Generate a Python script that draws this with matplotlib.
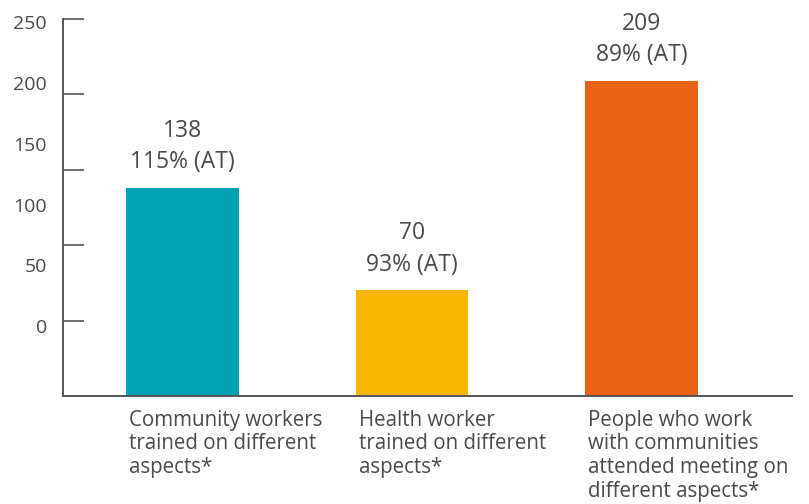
import matplotlib
matplotlib.use("Agg")
import matplotlib.pyplot as plt

categories = ["Community workers\ntrained on different\naspects*",
              "Health worker\ntrained on different\naspects*",
              "People who work\nwith communities\nattended meeting on\ndifferent aspects*"]
values = [138, 70, 209]
achievements = ["115% (AT)", "93% (AT)", "89% (AT)"]
colors = ["#00A0B2", "#F7B500", "#E96216"]
ytick_labels = ["0", "50", "100", "150", "200", "250"]
tick_values = [50, 100, 150, 200, 250]

txt = "#4a4a4a"
fig = plt.figure(figsize=(8.09, 5.04), dpi=100)
ax = fig.add_axes([63/809, 108/504, 729/809, 377/504])
x = list(range(len(values)))
ax.bar(x, values, width=0.49, color=colors, zorder=2)
ax.set_xlim(-0.521, 2.656)
ax.set_ylim(0, 250)

for s in ["top", "right"]:
    ax.spines[s].set_visible(False)
for s in ["left", "bottom"]:
    ax.spines[s].set_color("#555555")
    ax.spines[s].set_linewidth(1.4)
ax.set_xticks([])
ax.set_yticks(tick_values)
ax.set_yticklabels([])
ax.tick_params(axis="y", direction="in", length=15, width=1.2, color="#555555")

# y labels (as drawn in the original, evenly spaced)
label_pos = [45, 85.5, 125.5, 165.5, 206, 247]
for lab, yp in zip(ytick_labels, label_pos):
    ax.text(-0.022, yp, lab, transform=ax.get_yaxis_transform(), ha="right",
            va="center", fontsize=14, color=txt, family="Open Sans")

for xi, v, a in zip(x, values, achievements):
    ax.text(xi, v + 9, a, ha="center", va="bottom", fontsize=16.5,
            color=txt, family="Open Sans")
    ax.text(xi, v + 30, str(v), ha="center", va="bottom", fontsize=16.5,
            color=txt, family="Open Sans")

for xi, c in zip(x, categories):
    ax.text(xi - 0.245 + 0.012, -9, c, ha="left", va="top", fontsize=14.8,
            color=txt, family="Open Sans", linespacing=1.17)

fig.savefig("out.png", dpi=100)
